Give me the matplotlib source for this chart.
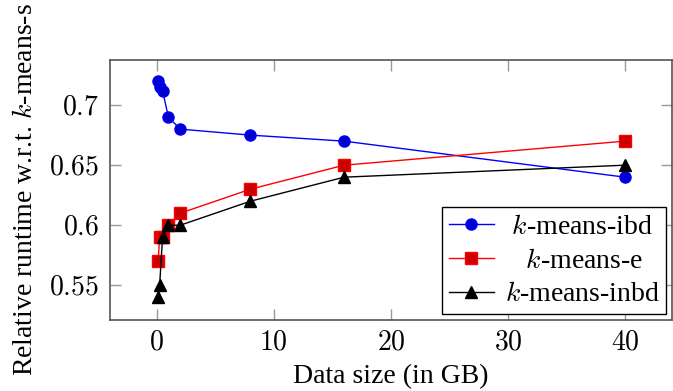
import matplotlib
matplotlib.use("Agg")
import matplotlib.pyplot as plt
from matplotlib.ticker import FuncFormatter

# datos
data_size = [0.125, 0.25, 0.5, 1, 2, 8, 16, 40]
ibd = [0.72, 0.715, 0.712, 0.69, 0.68, 0.675, 0.67, 0.64]
e = [0.57, 0.59, 0.59, 0.60, 0.61, 0.63, 0.65, 0.67]
inbd = [0.54, 0.55, 0.59, 0.60, 0.60, 0.62, 0.64, 0.65]

x_ticks = [0, 10, 20, 30, 40]
y_ticks = [0.55, 0.6, 0.65, 0.7]

plt.rcParams["font.family"] = ["Liberation Serif", "DejaVu Serif"]
plt.rcParams["mathtext.fontset"] = "cm"

fig = plt.figure(figsize=(6.73, 3.91), dpi=100)
ax = fig.add_axes([0.1634, 0.182, 0.8351, 0.6645])

# espacios para centrar las etiquetas de la leyenda como en pgfplots
ax.plot(data_size, ibd, color="blue", lw=1, marker="o", ms=8,
        mfc="#0000cc", mec="blue", label=" $k$-means-ibd")
ax.plot(data_size, e, color="red", lw=1, marker="s", ms=8,
        mfc="#cc0000", mec="red", label="   $k$-means-e")
ax.plot(data_size, inbd, color="black", lw=1, marker="^", ms=8,
        mfc="black", mec="black", label="$k$-means-inbd")

ax.set_xlim(-3.99, 44.0)
ax.set_ylim(0.5213, 0.7375)
ax.set_xticks(x_ticks)
ax.set_yticks(y_ticks)
ax.xaxis.set_major_formatter(FuncFormatter(lambda v, p: "$%g$" % v))
ax.yaxis.set_major_formatter(FuncFormatter(lambda v, p: "$%g$" % v))
ax.tick_params(direction="in", length=8, width=1, color="#999999",
               top=True, right=True, labelsize=20, pad=8)
for s in ax.spines.values():
    s.set_color("#555555")
    s.set_linewidth(1.2)

ax.set_xlabel("Data size (in GB)", fontsize=20, labelpad=6)
ax.set_ylabel("Relative runtime w.r.t. $k$-means-s", fontsize=20, labelpad=8)

leg = ax.legend(loc="lower right", fontsize=20, frameon=True, fancybox=False,
                edgecolor="black", borderaxespad=0.2, handlelength=1.6,
                handletextpad=0.4, labelspacing=0.3, borderpad=0.25)
leg.get_frame().set_linewidth(1)
leg.get_frame().set_alpha(1)

png_path = "out.png"
plt.savefig(png_path, dpi=100)
print(f"Grafica guardada en: {png_path}")
